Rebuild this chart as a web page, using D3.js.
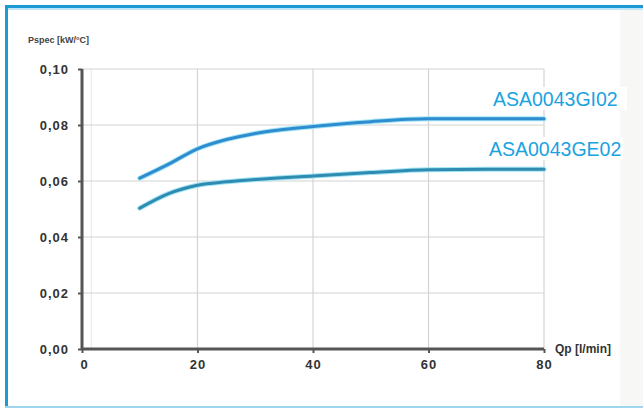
<!DOCTYPE html>
<html><head><meta charset="utf-8">
<script src="https://cdn.jsdelivr.net/npm/d3@7"></script>
<style>html,body{margin:0;padding:0;background:#fff;}svg{display:block;}</style>
</head><body>
<svg id="c" width="643" height="412"></svg>
<script>
const xTicks = [0, 20, 40, 60, 80];
const yTicks = [0, 0.02, 0.04, 0.06, 0.08, 0.10];
const yTickLabels = ["0,00", "0,02", "0,04", "0,06", "0,08", "0,10"];
const seriesNames = ["ASA0043GI02", "ASA0043GE02"];
const qp = [10, 15, 20, 25, 30, 40, 50, 60, 70, 80];
const giValues = [0.061, 0.066, 0.0715, 0.0748, 0.0770, 0.0795, 0.0812, 0.0822, 0.0822, 0.0822];
const geValues = [0.0503, 0.0555, 0.0585, 0.0597, 0.0605, 0.0618, 0.0630, 0.0640, 0.0642, 0.0642];
const xTitle = "Qp [l/min]";
const yTitle = "Pspec [kW/°C]";

const svg = d3.select("#c");
// frame
svg.append("rect").attr("x",0).attr("y",0).attr("width",643).attr("height",412).attr("fill","#fff");
svg.append("rect").attr("x",620).attr("y",8).attr("width",23).attr("height",398).attr("fill","#f7f7f5");
svg.append("rect").attr("x",5).attr("y",5).attr("width",638).attr("height",3).attr("fill","#1b9ad6");
svg.append("rect").attr("x",5).attr("y",8).attr("width",638).attr("height",2).attr("fill","#bfe6f6");
svg.append("rect").attr("x",5).attr("y",5).attr("width",3).attr("height",403).attr("fill","#1b9ad6");
svg.append("rect").attr("x",5).attr("y",406).attr("width",638).attr("height",2).attr("fill","#9fd6ef");

const x = d3.scaleLinear().domain([0,80]).range([82,544]);
const y = d3.scaleLinear().domain([0,0.10]).range([349,69]);

// grid
const g = svg.append("g");
g.selectAll(".vg").data(xTicks.slice(1)).join("line")
  .attr("x1",d=>x(d)).attr("x2",d=>x(d)).attr("y1",y(0.10)).attr("y2",y(0))
  .attr("stroke","#d4d4d4").attr("stroke-width",1.2);
g.append("line").attr("x1",x(1.6)).attr("x2",x(1.6)).attr("y1",y(0.10)).attr("y2",y(0)).attr("stroke","#e6e6e6");
g.selectAll(".hg").data(yTicks.slice(1)).join("line")
  .attr("x1",x(0)).attr("x2",x(80)).attr("y1",d=>y(d)).attr("y2",d=>y(d))
  .attr("stroke","#d4d4d4").attr("stroke-width",1.2);

// axes
const yAxis = d3.axisLeft(y).tickValues(yTicks).tickSize(4).tickPadding(9)
  .tickFormat((d,i)=>yTickLabels[i]);
const xAxis = d3.axisBottom(x).tickValues(xTicks).tickSize(4).tickPadding(7);
const ya = svg.append("g").attr("transform",`translate(${x(0)},0)`).call(yAxis);
const xa = svg.append("g").attr("transform",`translate(0,${y(0)})`).call(xAxis);
[ya,xa].forEach(a=>{
  a.select(".domain").attr("stroke","#555").attr("stroke-width",3);
  a.selectAll(".tick line").attr("stroke","#555").attr("stroke-width",2);
  a.selectAll("text").attr("fill","#333").attr("font-family","Liberation Sans, Arial, sans-serif")
   .attr("font-size",13).attr("font-weight","bold").attr("letter-spacing",1);
});
xa.select(".domain").attr("d",`M${x(0)},0H${x(80)}`);
ya.select(".domain").attr("d",`M0,${y(0)}V${y(0.10)}`);
xa.selectAll(".tick text").filter(d=>d===0).attr("dx",2);

svg.append("text").attr("x",28).attr("y",43).text(yTitle)
  .attr("font-family","Liberation Sans, Arial, sans-serif").attr("font-size",9).attr("font-weight","bold").attr("fill","#444");
svg.append("text").attr("x",555).attr("y",353).text(xTitle)
  .attr("font-family","Liberation Sans, Arial, sans-serif").attr("font-size",12).attr("font-weight","bold").attr("fill","#333");

// lines
const line = d3.line().x((d,i)=>x(qp[i])).y(d=>y(d)).curve(d3.curveMonotoneX);
const series = [giValues, geValues];
const colors = ["#2e8ccf","#2f8bb0"];
series.forEach((s,k)=>{
  svg.append("path").attr("d",line(s)).attr("fill","none").attr("stroke","#9fe3f5").attr("stroke-width",5).attr("stroke-linecap","round");
  svg.append("path").attr("d",line(s)).attr("fill","none").attr("stroke",colors[k]).attr("stroke-width",3).attr("stroke-linecap","round");
});

// labels
const lab = [[493,106],[489,156]];
seriesNames.forEach((n,i)=>{
  svg.append("rect").attr("x",lab[i][0]-8).attr("y",lab[i][1]-19).attr("width",142).attr("height",23).attr("fill","#fff");
  svg.append("text").attr("x",lab[i][0]).attr("y",lab[i][1]).text(n)
    .attr("font-family","Liberation Sans, Arial, sans-serif").attr("font-size",19.5).attr("fill","#1aa3e0");
});
</script>
</body></html>
